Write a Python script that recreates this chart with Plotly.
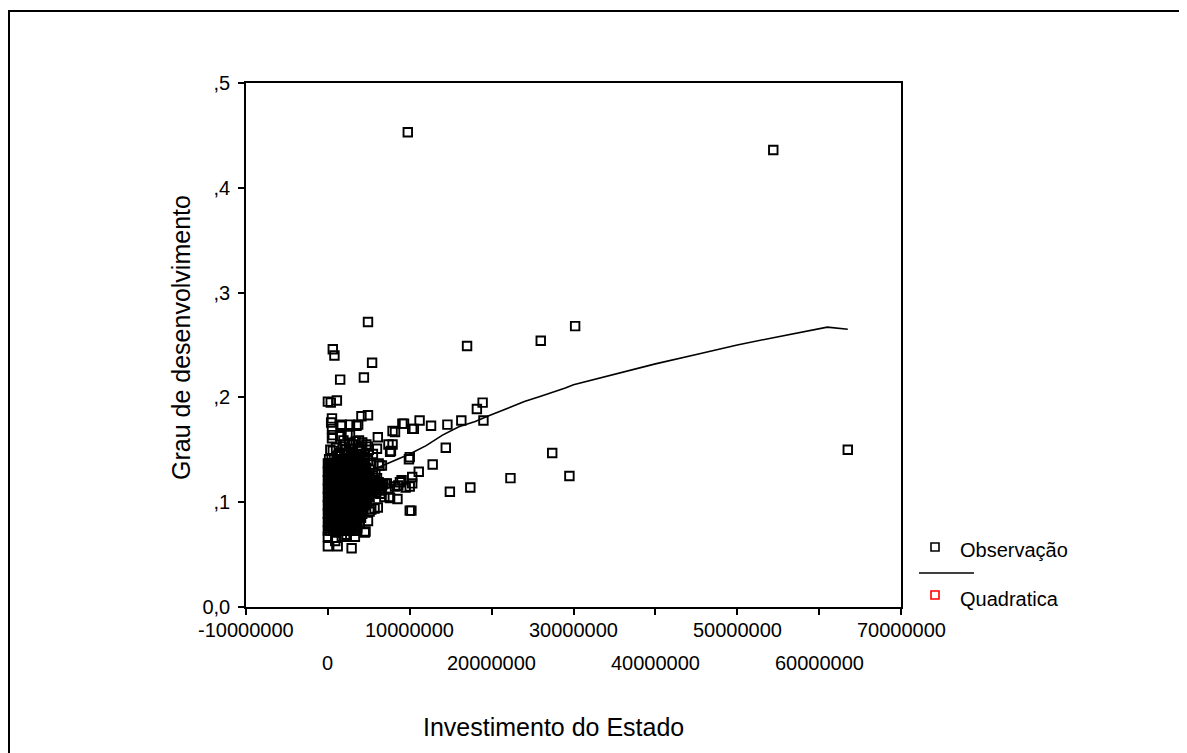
import plotly.graph_objects as go

# ---------------- data (x in millions) ----------------
obs_x_mi = [9.76, 54.4, 63.5, 30.2, 26.0, 17.0, 4.9, 5.4, 4.4, 0.6, 0.8, 1.5,
            0.0, 0.35, 1.1, 0.5, 4.1, 4.9, 0.5, 1.6, 3.5, 0.5, 1.5, 2.4, 6.1,
            7.9, 9.1, 10.3, 11.2, 12.6, 14.6, 16.3, 18.9, 18.2, 19.0, 9.3, 10.5,
            3.8, 7.9, 7.7, 6.0, 4.9, 9.9, 10.0, 12.8, 14.4, 6.3, 11.1, 10.3, 10.0,
            9.0, 8.2, 7.2, 10.0, 7.5, 8.5, 10.2, 5.7, 5.1, 4.9, 4.6, 3.5, 2.9,
            0.0, 1.2, 1.7, 0.4, 2.7, 0.6, 2.7, 2.1, 4.1, 6.2, 6.6, 7.6, 7.4,
            8.2, 3.7, 1.7, 2.3, 3.3, 4.5, 3.6, 5.3, 6.1, 0.0, 0.9, 2.1,
            14.9, 17.4, 22.3, 27.4, 29.5, 4.9, 5.3, 5.8, 6.2, 6.6, 7.0, 7.4,
            5.4, 5.9, 6.4, 6.9, 7.6, 5.0, 5.5, 6.0, 8.6, 9.5, 10.3, 8.8,
            1.5, 2.2, 3.0, 3.8, 4.5, 0.6, 2.6, 3.4, 4.2, 1.9, 5.0, 5.5, 4.9,
            5.3, 5.1, 4.8, 5.0, 6.5, 5.8,
            1.0, 1.8, 2.4, 3.2, 4.0, 4.7, 3.0, 0.3, 1.3, 2.0, 2.8, 3.6, 4.4]
obs_y = [0.453, 0.436, 0.150, 0.268, 0.254, 0.249, 0.272, 0.233, 0.219, 0.246, 0.240, 0.217,
         0.196, 0.195, 0.197, 0.180, 0.182, 0.183, 0.170, 0.173, 0.173, 0.161, 0.163, 0.165, 0.162,
         0.168, 0.175, 0.170, 0.178, 0.173, 0.174, 0.178, 0.195, 0.189, 0.178, 0.175, 0.170,
         0.159, 0.155, 0.149, 0.151, 0.153, 0.141, 0.143, 0.136, 0.152, 0.135, 0.129, 0.124, 0.115,
         0.121, 0.115, 0.118, 0.092, 0.105, 0.103, 0.092, 0.094, 0.091, 0.082, 0.072, 0.073, 0.056,
         0.058, 0.058, 0.067, 0.176, 0.174, 0.164, 0.164, 0.155, 0.153, 0.137, 0.135, 0.148, 0.155,
         0.167, 0.174, 0.174, 0.069, 0.067, 0.071, 0.075, 0.093, 0.095, 0.067, 0.063, 0.067,
         0.110, 0.114, 0.123, 0.147, 0.125, 0.121, 0.119, 0.117, 0.119, 0.115, 0.118, 0.113,
         0.111, 0.109, 0.108, 0.105, 0.104, 0.106, 0.125, 0.123, 0.116, 0.114, 0.118, 0.119,
         0.147, 0.150, 0.148, 0.151, 0.146, 0.149, 0.156, 0.158, 0.157, 0.159, 0.150, 0.146, 0.140,
         0.136, 0.131, 0.099, 0.113, 0.111, 0.127,
         0.152, 0.153, 0.146, 0.144, 0.149, 0.155, 0.155, 0.150, 0.145, 0.147, 0.151, 0.146, 0.143]

# the dense mass of observations near the origin, read row by row
core_rows_y = [0.073, 0.077, 0.081, 0.085, 0.089, 0.093, 0.097, 0.101, 0.105,
               0.109, 0.113, 0.117, 0.121, 0.125, 0.129, 0.133, 0.137, 0.141]
core_rows_x_mi = [
    [0.0, 0.3, 0.6, 0.9, 1.2, 1.5, 1.8, 2.1, 2.4, 2.7, 3.0, 3.3],
    [0.15, 0.45, 0.75, 1.05, 1.35, 1.65, 1.95, 2.25, 2.55, 2.85, 3.15, 3.45],
    [0.0, 0.3, 0.6, 0.9, 1.2, 1.5, 1.8, 2.1, 2.4, 2.7, 3.0, 3.3, 3.6, 3.9],
    [0.15, 0.45, 0.75, 1.05, 1.35, 1.65, 1.95, 2.25, 2.55, 2.85, 3.15, 3.45, 3.75, 4.05],
    [0.0, 0.3, 0.6, 0.9, 1.2, 1.5, 1.8, 2.1, 2.4, 2.7, 3.0, 3.3, 3.6, 3.9, 4.2],
    [0.15, 0.45, 0.75, 1.05, 1.35, 1.65, 1.95, 2.25, 2.55, 2.85, 3.15, 3.45, 3.75, 4.05, 4.35],
    [0.0, 0.3, 0.6, 0.9, 1.2, 1.5, 1.8, 2.1, 2.4, 2.7, 3.0, 3.3, 3.6, 3.9, 4.2, 4.5],
    [0.15, 0.45, 0.75, 1.05, 1.35, 1.65, 1.95, 2.25, 2.55, 2.85, 3.15, 3.45, 3.75, 4.05, 4.35, 4.65],
    [0.0, 0.3, 0.6, 0.9, 1.2, 1.5, 1.8, 2.1, 2.4, 2.7, 3.0, 3.3, 3.6, 3.9, 4.2, 4.5, 4.8, 5.1],
    [0.15, 0.45, 0.75, 1.05, 1.35, 1.65, 1.95, 2.25, 2.55, 2.85, 3.15, 3.45, 3.75, 4.05, 4.35, 4.65,
     4.95, 5.25, 5.55],
    [0.0, 0.3, 0.6, 0.9, 1.2, 1.5, 1.8, 2.1, 2.4, 2.7, 3.0, 3.3, 3.6, 3.9, 4.2, 4.5, 4.8, 5.1, 5.4,
     5.7, 6.0, 6.3],
    [0.15, 0.45, 0.75, 1.05, 1.35, 1.65, 1.95, 2.25, 2.55, 2.85, 3.15, 3.45, 3.75, 4.05, 4.35, 4.65,
     4.95, 5.25, 5.55, 5.85, 6.15, 6.45, 6.75],
    [0.0, 0.3, 0.6, 0.9, 1.2, 1.5, 1.8, 2.1, 2.4, 2.7, 3.0, 3.3, 3.6, 3.9, 4.2, 4.5, 4.8, 5.1, 5.4, 5.7],
    [0.15, 0.45, 0.75, 1.05, 1.35, 1.65, 1.95, 2.25, 2.55, 2.85, 3.15, 3.45, 3.75, 4.05, 4.35, 4.65, 4.95],
    [0.0, 0.3, 0.6, 0.9, 1.2, 1.5, 1.8, 2.1, 2.4, 2.7, 3.0, 3.3, 3.6, 3.9, 4.2, 4.5],
    [0.15, 0.45, 0.75, 1.05, 1.35, 1.65, 1.95, 2.25, 2.55, 2.85, 3.15, 3.45, 3.75, 4.05, 4.35, 4.65],
    [0.0, 0.3, 0.6, 0.9, 1.2, 1.5, 1.8, 2.1, 2.4, 2.7, 3.0, 3.3, 3.6, 3.9, 4.2, 4.5],
    [0.15, 0.45, 0.75, 1.05, 1.35, 1.65, 1.95, 2.25, 2.55, 2.85, 3.15, 3.45, 3.75, 4.05],
]

# fitted quadratic curve
curve_x_mi = [0.0, 2.0, 4.0, 5.5, 7.0, 8.5, 10.0, 12.0, 14.0, 16.0, 18.0, 19.5, 22.0,
              24.0, 26.0, 28.0, 29.0, 30.0, 35.0, 40.0, 45.0, 50.0, 54.4, 61.0, 63.5]
curve_y = [0.117, 0.122, 0.127, 0.131, 0.136, 0.141, 0.146, 0.154, 0.164, 0.172, 0.177, 0.182,
           0.190, 0.196, 0.201, 0.206, 0.209, 0.212, 0.222, 0.232, 0.241, 0.250, 0.257, 0.267, 0.265]

x_tick_vals = [-10000000, 0, 10000000, 20000000, 30000000, 40000000, 50000000, 60000000, 70000000]
x_tick_text = ["-10000000", "0", "10000000", "20000000", "30000000", "40000000",
               "50000000", "60000000", "70000000"]
y_tick_vals = [0.0, 0.1, 0.2, 0.3, 0.4, 0.5]
y_tick_text = ["0,0", ",1", ",2", ",3", ",4", ",5"]

legend_labels = ["Observação", "Quadratica"]
x_title = "Investimento do Estado"
y_title = "Grau de desenvolvimento"

# ---------------- build ----------------
all_x = []
all_y = []
for yv, row in zip(core_rows_y, core_rows_x_mi):
    for xv in row:
        all_x.append(xv * 1e6)
        all_y.append(yv)
all_x += [v * 1e6 for v in obs_x_mi]
all_y += obs_y

FONT = "Liberation Sans, Arial, sans-serif"
W, H = 1187, 753
OFF = 8  # page body margin
L, R, T, B = 246, 901, 83, 607  # plot area in screen pixels


def px_x(px):
    return (px - L) / (R - L)


def px_y(py):
    return (B - py) / (B - T)


fig = go.Figure()
fig.add_trace(go.Scatter(
    x=all_x, y=all_y, mode="markers", name=legend_labels[0],
    marker=dict(symbol="square-open", size=8.5, color="black", line=dict(width=1.9, color="black")),
    showlegend=False, cliponaxis=False,
))
fig.add_trace(go.Scatter(
    x=[v * 1e6 for v in curve_x_mi], y=curve_y, mode="lines", name=legend_labels[1],
    line=dict(color="black", width=1.6), showlegend=False,
))

annotations = []
for i, (v, t) in enumerate(zip(x_tick_vals, x_tick_text)):
    annotations.append(dict(
        x=v, xref="x", y=0, yref="paper", text=t, showarrow=False,
        xanchor="center", yanchor="middle", yshift=-22.5 if i % 2 == 0 else -55.5,
        font=dict(size=20, color="black", family=FONT),
    ))
annotations.append(dict(x=px_x(553), xref="paper", y=px_y(727), yref="paper", text=x_title,
                        showarrow=False, xanchor="center", yanchor="middle",
                        font=dict(size=25, color="black", family=FONT)))
annotations.append(dict(x=px_x(181), xref="paper", y=px_y(338), yref="paper", text=y_title,
                        showarrow=False, xanchor="center", yanchor="middle", textangle=-90,
                        font=dict(size=25, color="black", family=FONT)))
annotations.append(dict(x=px_x(958), xref="paper", y=px_y(550), yref="paper", text=legend_labels[0],
                        showarrow=False, xanchor="left", yanchor="middle",
                        font=dict(size=20, color="black", family=FONT)))
annotations.append(dict(x=px_x(958), xref="paper", y=px_y(599), yref="paper", text=legend_labels[1],
                        showarrow=False, xanchor="left", yanchor="middle",
                        font=dict(size=20, color="black", family=FONT)))

shapes = [
    # outer frame
    dict(type="rect", xref="paper", yref="paper", x0=px_x(9), x1=px_x(1210), y0=px_y(780), y1=px_y(11),
         line=dict(color="black", width=2), fillcolor="rgba(0,0,0,0)"),
    # legend symbols
    dict(type="rect", xref="paper", yref="paper", x0=px_x(931), x1=px_x(939), y0=px_y(551), y1=px_y(543),
         line=dict(color="black", width=1.6)),
    dict(type="line", xref="paper", yref="paper", x0=px_x(919), x1=px_x(974), y0=px_y(573), y1=px_y(573),
         line=dict(color="black", width=1.5)),
    dict(type="rect", xref="paper", yref="paper", x0=px_x(931), x1=px_x(939), y0=px_y(599), y1=px_y(591),
         line=dict(color="red", width=1.6)),
]

fig.update_layout(
    width=W, height=H,
    margin=dict(l=L - OFF, r=W - R + OFF, t=T - OFF, b=H - B + OFF, pad=0),
    paper_bgcolor="white", plot_bgcolor="white",
    showlegend=False,
    font=dict(family=FONT, color="black", size=20),
    annotations=annotations, shapes=shapes,
    xaxis=dict(range=[-10000000, 70000000], tickvals=x_tick_vals, showticklabels=False,
               ticks="outside", ticklen=6, tickwidth=1.5, tickcolor="black",
               showline=True, linecolor="black", linewidth=1.5, mirror=True,
               showgrid=False, zeroline=False),
    yaxis=dict(range=[0, 0.5], tickvals=y_tick_vals, ticktext=y_tick_text,
               ticks="outside", ticklen=6, tickwidth=1.5, tickcolor="black",
               showline=True, linecolor="black", linewidth=1.5, mirror=True,
               showgrid=False, zeroline=False, ticklabelstandoff=4,
               tickfont=dict(size=20, family=FONT, color="black")),
)

fig.write_html("out.html")
